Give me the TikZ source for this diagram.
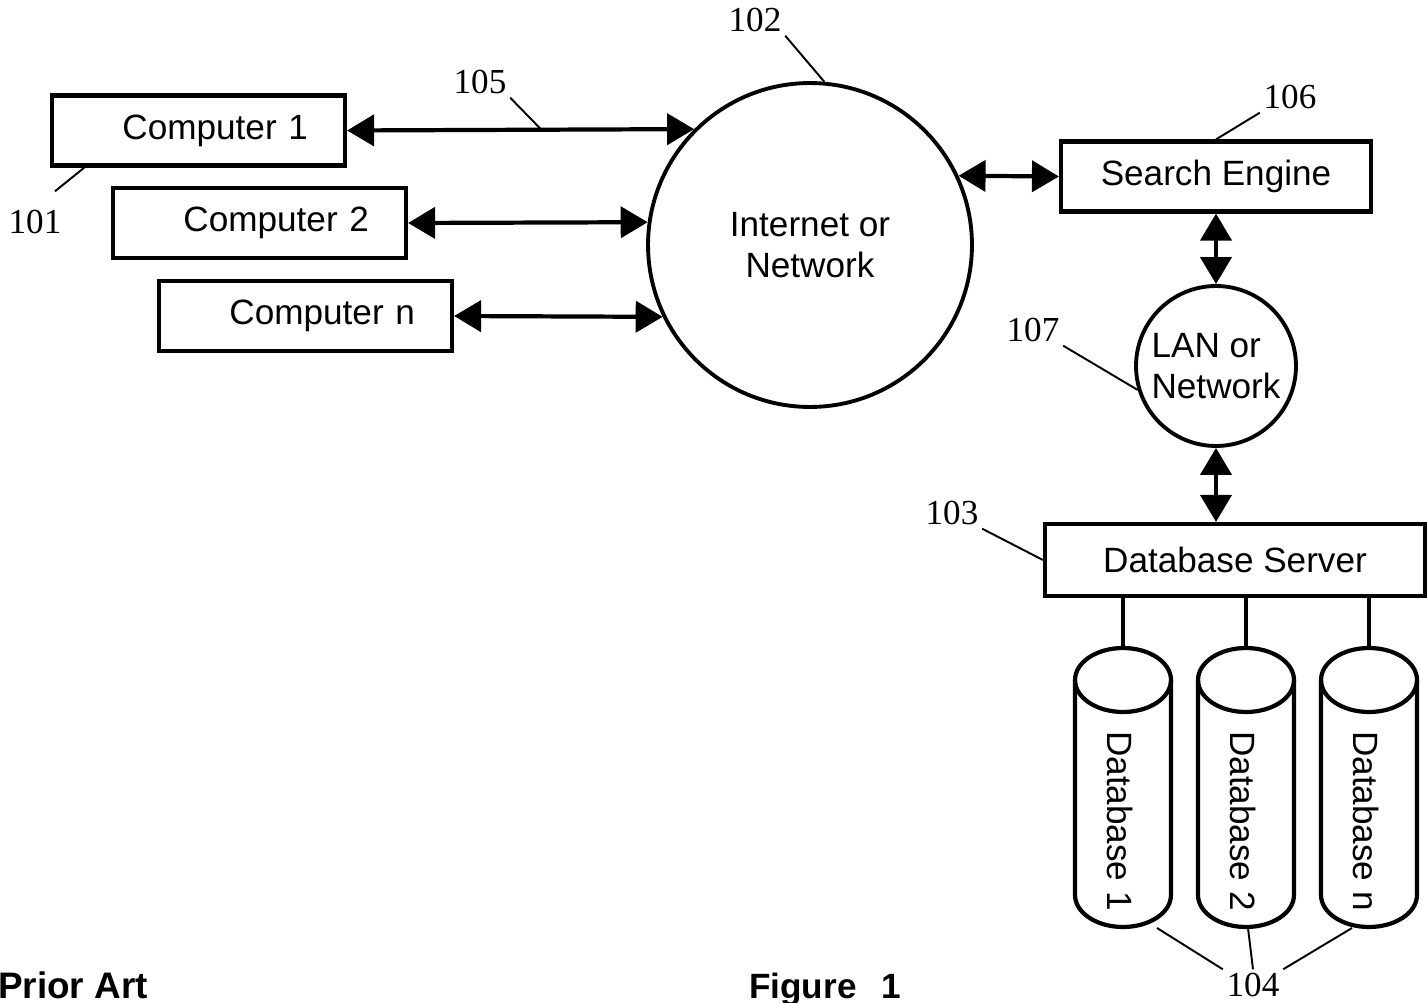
\documentclass[tikz,border=0pt]{standalone}
\usepackage{fontspec}
\setmainfont{Liberation Serif}
\setsansfont{Liberation Sans}
\usetikzlibrary{arrows.meta}

\tikzset{
  lbl/.style={font=\sffamily\fontsize{20}{23}\selectfont},
  box/.style={lbl, draw, line width=2.4pt, minimum height=1.4cm, inner sep=0pt},
  compbox/.style={box, text width=4.38cm, align=right, inner xsep=0.74cm},
  net/.style={lbl, circle, draw, line width=2.2pt, inner sep=0pt},
  link/.style={line width=2.4pt, {Triangle[length=0.54cm,width=0.62cm]}-{Triangle[length=0.54cm,width=0.62cm]}},
  refnum/.style={font=\fontsize{20}{23}\selectfont, inner sep=2pt},
  lead/.style={line width=1.1pt},
  wire/.style={line width=2.4pt},
  dbtext/.style={lbl, rotate=-90},
}

\begin{document}
\begin{tikzpicture}[x=0.02cm, y=-0.02cm]
\useasboundingbox (0,0) rectangle (1427,1003);

% computers
\node[compbox] (c1) at (198.5,130.5) {Computer 1};
\node[compbox] (c2) at (259.5,223) {Computer 2};
\node[compbox] (cn) at (305.5,316) {Computer n};

% networks
\node[net, minimum size=6.48cm, align=center] (inet) at (810,245) {Internet or\\Network};
\node[box, minimum width=6.2cm] (se) at (1216,176.5) {Search Engine};
\node[net, minimum size=3.2cm, align=left] (lan) at (1216,366) {LAN or\\Network};
\node[box, minimum width=7.6cm, minimum height=1.44cm] (server) at (1235,560) {Database Server};

\draw[link] (c1.east) -- (inet.135) coordinate[pos=0.56] (m105);
\draw[link] (c2.east) -- (inet.172);
\draw[link] (cn.east) -- (inet.206);
\draw[link] (inet.25) -- (se.west);
\draw[link] (se.south) -- (lan.north);
\draw[link] (lan.south) -- (lan.south |- server.north);

% databases
\foreach \x/\lab/\k/\o in {1123/1/1/34, 1246/2/2/2, 1369/n/3/-17} {
  \draw[wire] (\x-48,680) -- (\x-48,895) arc[start angle=180, end angle=360, x radius=0.96cm, y radius=0.64cm] -- (\x+48,680);
  \draw[wire] (\x,680) ellipse [x radius=0.96cm, y radius=0.64cm];
  \node[dbtext] (db\k) at (\x-3,821) {Database \lab};
  \coordinate (dbtop\k) at (\x,648);
  \coordinate (foot\k) at (\x+\o,928);
  \draw[wire] (server.south -| dbtop\k) -- (dbtop\k);
}

% reference numbers
\node[refnum] (l101) at (35,222) {101};
\node[refnum] (l102) at (755,20) {102};
\node[refnum] (l103) at (952,513) {103};
\node[refnum] (l104) at (1253,985) {104};
\node[refnum] (l105) at (480,82) {105};
\node[refnum] (l106) at (1290,97) {106};
\node[refnum] (l107) at (1033,330) {107};

\draw[lead] ([xshift=0.4cm, yshift=0.3cm]l101.north) -- (c1.198);
\draw[lead] (l102.south east) -- (inet.85);
\draw[lead] (l103.south east) -- (server.west);
\draw[lead] (l105.south east) -- (m105);
\draw[lead] (l106.south west) -- (se.north);
\draw[lead] (l107.south east) -- (lan.197);
\draw[lead] (l104.north west) -- (foot1);
\draw[lead] (l104.north) -- (foot2);
\draw[lead] (l104.north east) -- (foot3);

\node[lbl, font=\sffamily\bfseries\fontsize{21}{24}\selectfont, anchor=base west] (prior) at (-8,998) {Prior Art};
\node[lbl, font=\sffamily\bfseries\fontsize{20}{24}\selectfont, anchor=base west] (fig) at (743,998) {Figure\hspace{0.5cm}1};
\end{tikzpicture}
\end{document}
